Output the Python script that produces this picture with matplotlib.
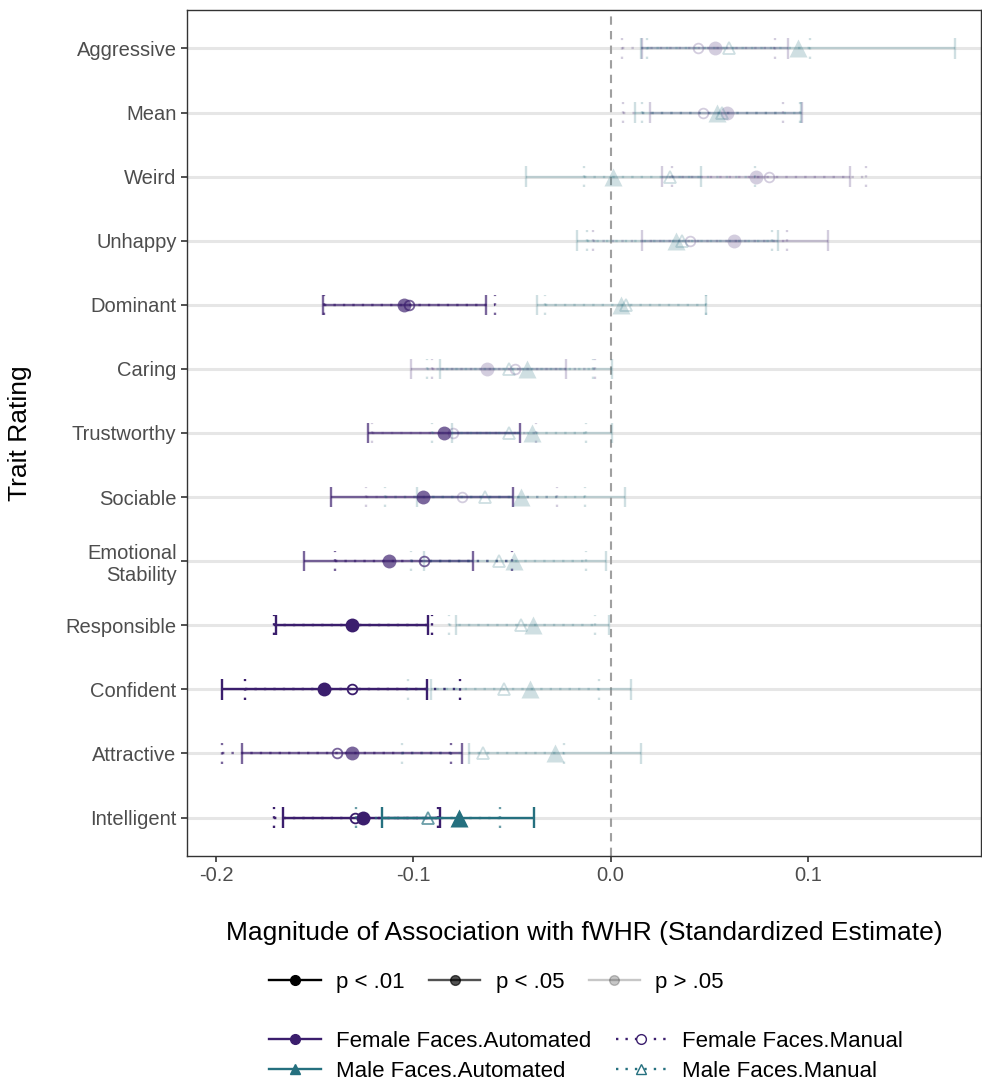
import matplotlib
matplotlib.use('Agg')
import matplotlib.pyplot as plt
from matplotlib.lines import Line2D

plt.rcParams['font.family'] = ['Liberation Sans', 'DejaVu Sans']

# top to bottom
traits = ['Aggressive', 'Mean', 'Weird', 'Unhappy', 'Dominant', 'Caring',
          'Trustworthy', 'Sociable', 'Emotional\nStability', 'Responsible',
          'Confident', 'Attractive', 'Intelligent']

# Female Faces.Automated
fa_est = [0.0528, 0.0589, 0.0736, 0.0624, -0.1046, -0.0624, -0.0843, -0.0953, -0.1125, -0.1311, -0.1452, -0.1311, -0.1257]
fa_lo = [0.0157, 0.0198, 0.0259, 0.0157, -0.1457, -0.1010, -0.1227, -0.1415, -0.1553, -0.1694, -0.1968, -0.1870, -0.1658]
fa_hi = [0.0898, 0.0973, 0.1213, 0.1102, -0.0631, -0.0228, -0.0458, -0.0496, -0.0699, -0.0924, -0.0932, -0.0753, -0.0863]
fa_p = ['p > .05', 'p > .05', 'p > .05', 'p > .05', 'p < .05', 'p > .05', 'p < .05',
        'p < .05', 'p < .05', 'p < .01', 'p < .01', 'p < .05', 'p < .01']

# Female Faces.Manual
fm_est = [0.0442, 0.0467, 0.0802, 0.0401, -0.1020, -0.0482, -0.0797, -0.0753, -0.0944, -0.1310, -0.1310, -0.1389, -0.1296]
fm_lo = [0.0056, 0.0061, 0.0310, -0.0091, -0.1452, -0.0904, -0.1208, -0.1237, -0.1397, -0.1706, -0.1853, -0.1968, -0.1706]
fm_hi = [0.0832, 0.0873, 0.1294, 0.0893, -0.0584, -0.0081, -0.0380, -0.0269, -0.0497, -0.0907, -0.0761, -0.0809, -0.0877]
fm_p = ['p > .05', 'p > .05', 'p > .05', 'p > .05', 'p < .05', 'p > .05', 'p > .05',
        'p > .05', 'p < .05', 'p < .01', 'p < .01', 'p < .05', 'p < .01']

# Male Faces.Automated
ma_est = [0.0949, 0.0538, 0.0010, 0.0334, 0.0054, -0.0423, -0.0396, -0.0453, -0.0487, -0.0394, -0.0406, -0.0281, -0.0770]
ma_lo = [0.0152, 0.0122, -0.0431, -0.0168, -0.0371, -0.0864, -0.0802, -0.0980, -0.0944, -0.0783, -0.0910, -0.0716, -0.1156]
ma_hi = [0.1746, 0.0963, 0.0457, 0.0848, 0.0486, 0.0005, 0.0009, 0.0071, -0.0022, -0.0009, 0.0105, 0.0152, -0.0389]
ma_p = ['p > .05'] * 12 + ['p < .01']

# Male Faces.Manual
mm_est = [0.0599, 0.0563, 0.0299, 0.0360, 0.0080, -0.0513, -0.0513, -0.0635, -0.0563, -0.0453, -0.0542, -0.0645, -0.0927]
mm_lo = [0.0183, 0.0157, -0.0132, -0.0120, -0.0331, -0.0929, -0.0904, -0.1142, -0.1009, -0.0821, -0.1027, -0.1057, -0.1291]
mm_hi = [0.1010, 0.0959, 0.0730, 0.0820, 0.0486, -0.0091, -0.0122, -0.0127, -0.0122, -0.0081, -0.0056, -0.0234, -0.0560]
mm_p = ['p > .05'] * 12 + ['p < .05']

p_levels = ['p < .01', 'p < .05', 'p > .05']
alphas = {'p < .01': 1.0, 'p < .05': 0.68, 'p > .05': 0.22}

FEMALE = '#3b1e6d'
MALE = '#25707f'
DOT = (0, (1, 3))

series = [
    ('Female Faces.Automated', fa_est, fa_lo, fa_hi, fa_p, FEMALE, '-', 'o', True, 10),
    ('Female Faces.Manual', fm_est, fm_lo, fm_hi, fm_p, FEMALE, DOT, 'o', False, 7),
    ('Male Faces.Automated', ma_est, ma_lo, ma_hi, ma_p, MALE, '-', '^', True, 13),
    ('Male Faces.Manual', mm_est, mm_lo, mm_hi, mm_p, MALE, DOT, '^', False, 8.5),
]

n = len(traits)
ypos = list(range(n, 0, -1))

fig = plt.figure(figsize=(9.82, 10.82), dpi=100)
ax = fig.add_axes([0.1904, 0.2089, 0.8086, 0.7819])

ax.axvline(0, color='#a0a0a0', ls=(0, (4, 3)), lw=1.5, zorder=1)

cap = 0.16
for name, est, lo, hi, pv, col, ls, mk, filled, ms in series:
    for y, e, l, h, p in zip(ypos, est, lo, hi, pv):
        a = alphas[p]
        ax.hlines(y, l, h, color=col, alpha=a, ls=ls, lw=1.7, zorder=2)
        ax.vlines([l, h], y - cap, y + cap, color=col, alpha=a, ls=ls, lw=1.7, zorder=2)
        if filled:
            ax.plot(e, y, marker=mk, ms=ms, color=col, alpha=a, mec='none', ls='none', zorder=3)
        else:
            ax.plot(e, y, marker=mk, ms=ms, mfc='none', mec=col, mew=1.3, alpha=a, ls='none', zorder=3)

ax.set_xlim(-0.2147, 0.1878)
ax.set_ylim(0.4, n + 0.6)
ax.set_xticks([-0.2, -0.1, 0.0, 0.1])
ax.set_xticklabels(['-0.2', '-0.1', '0.0', '0.1'])
ax.set_yticks(ypos)
ax.set_yticklabels(traits, multialignment='right')
ax.tick_params(labelsize=14.5, colors='#4d4d4d', length=4, width=1.2)
ax.tick_params(axis='both', color='#333333')
ax.yaxis.grid(True, color='#e6e6e6', lw=2.2, zorder=0)
ax.set_axisbelow(True)
for s in ax.spines.values():
    s.set_color('#333333')
    s.set_linewidth(1.0)

ax.set_ylabel('Trait Rating', fontsize=19, labelpad=24)
ax.set_xlabel('Magnitude of Association with fWHR (Standardized Estimate)', fontsize=19, labelpad=26)

# legend for significance
p_handles = [Line2D([0], [0], color='black', alpha=alphas[p], lw=1.7, marker='o', ms=7) for p in p_levels]
leg1 = fig.legend(p_handles, p_levels, loc='center left', bbox_to_anchor=(0.254, 0.0924),
                  ncol=3, frameon=False, fontsize=16, handlelength=2.3, handletextpad=0.7,
                  columnspacing=1.1)

# legend for series
s_handles = []
s_labels = []
for name, est, lo, hi, pv, col, ls, mk, filled, ms in series:
    if filled:
        h = Line2D([0], [0], color=col, lw=1.7, ls=ls, marker=mk, ms=7)
    else:
        h = Line2D([0], [0], color=col, lw=1.7, ls=ls, marker=mk, ms=7, mfc='white', mec=col)
    s_handles.append(h)
    s_labels.append(name)
order = [0, 2, 1, 3]
leg2 = fig.legend([s_handles[i] for i in order], [s_labels[i] for i in order],
                  loc='center left', bbox_to_anchor=(0.254, 0.0235), ncol=2, frameon=False,
                  fontsize=16, handlelength=2.3, handletextpad=0.7, columnspacing=1.1,
                  labelspacing=0.4)

fig.savefig('out.png', dpi=100)
